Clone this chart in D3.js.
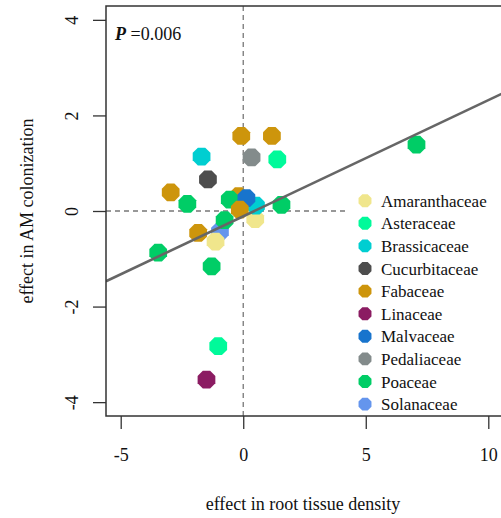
<!DOCTYPE html>
<html>
<head>
<meta charset="utf-8">
<script src="https://cdn.jsdelivr.net/npm/d3@7"></script>
<style>
  body { margin: 0; background: #fff; }
  svg { display: block; font-family: "Liberation Serif", "Times New Roman", serif; }
</style>
</head>
<body>
<svg id="chart" width="501" height="518"></svg>
<script>
// families shown in the legend, with their colours
const families = ["Amaranthaceae", "Asteraceae", "Brassicaceae", "Cucurbitaceae", "Fabaceae",
                  "Linaceae", "Malvaceae", "Pedaliaceae", "Poaceae", "Solanaceae"];
const familyColors = ["#F0E68C", "#00FA9A", "#00CED1", "#4D4D4D", "#CD950C",
                      "#8B1C62", "#1874CD", "#838B8B", "#00CD66", "#6495ED"];

// one entry per species (drawing order kept so overlaps look right)
const pointFamily = ["Fabaceae", "Poaceae", "Amaranthaceae", "Brassicaceae", "Malvaceae",
                     "Fabaceae", "Solanaceae", "Poaceae", "Amaranthaceae", "Fabaceae",
                     "Fabaceae", "Fabaceae", "Brassicaceae", "Pedaliaceae", "Asteraceae",
                     "Cucurbitaceae", "Fabaceae", "Poaceae", "Poaceae", "Poaceae",
                     "Poaceae", "Poaceae", "Asteraceae", "Linaceae"];
const rtdEffect = [-0.19, -0.55, 0.49, 0.52, 0.13,
                   -0.14, -0.95, -0.76, -1.13, -1.84,
                   -0.08, 1.17, -1.70, 0.34, 1.39,
                   -1.44, -2.96, -2.28, 1.56, -3.47,
                   -1.29, 7.07, -1.02, -1.50];
const amEffect  = [0.31, 0.24, -0.17, 0.11, 0.27,
                   0.03, -0.43, -0.19, -0.64, -0.46,
                   1.57, 1.57, 1.14, 1.12, 1.08,
                   0.66, 0.39, 0.15, 0.13, -0.87,
                   -1.16, 1.39, -2.83, -3.53];

// fitted line
const fitIntercept = -0.11;
const fitSlope = 0.243;

const xTicks = [-5, 0, 5, 10];
const yTicks = [-4, -2, 0, 2, 4];

let svg = d3.select("#chart");

let box = {left: 106, top: 6, right: 503, bottom: 416};

let x = d3.scaleLinear().domain([-5.6, 10.6]).range([box.left, box.right]);
let y = d3.scaleLinear().domain([-4.29, 4.29]).range([box.bottom, box.top]);
let color = d3.scaleOrdinal().domain(families).range(familyColors);

// plain hyphen minus, like R
let fmt = function(d) { return String(d); };

// R style octagon for the filled points
function octagon(r) {
    let pts = d3.range(8).map(function(i) {
        let a = Math.PI / 8 + i * Math.PI / 4;
        return [r * Math.cos(a), r * Math.sin(a)];
    });
    return d3.line().curve(d3.curveLinearClosed)(pts);
}

svg.append("clipPath").attr("id", "plotclip")
    .append("rect")
    .attr("x", box.left).attr("y", box.top)
    .attr("width", box.right - box.left).attr("height", box.bottom - box.top);

let plot = svg.append("g").attr("clip-path", "url(#plotclip)");

// reference lines at zero
plot.append("line")
    .attr("x1", x(0)).attr("x2", x(0))
    .attr("y1", box.top).attr("y2", box.bottom)
    .style("stroke", "#777").style("stroke-width", 1.3)
    .style("stroke-dasharray", "5,4");

plot.append("line")
    .attr("x1", box.left).attr("x2", box.right)
    .attr("y1", y(0)).attr("y2", y(0))
    .style("stroke", "#777").style("stroke-width", 1.3)
    .style("stroke-dasharray", "5,4");

// points
plot.selectAll(".dot")
    .data(d3.range(pointFamily.length))
    .enter().append("path")
    .attr("class", "dot")
    .attr("d", octagon(9.6))
    .attr("transform", function(i) { return "translate(" + x(rtdEffect[i]) + "," + y(amEffect[i]) + ")"; })
    .style("fill", function(i) { return color(pointFamily[i]); });

// regression line across the whole plot
let xd = x.domain();
plot.append("line")
    .attr("x1", x(xd[0])).attr("y1", y(fitIntercept + fitSlope * xd[0]))
    .attr("x2", x(xd[1])).attr("y2", y(fitIntercept + fitSlope * xd[1]))
    .style("stroke", "#666").style("stroke-width", 2.6);

// legend (white background hides the dashed line)
let legend = svg.append("g").attr("transform", "translate(345,188)");
legend.append("rect")
    .attr("x", 0).attr("y", 0).attr("width", 160).attr("height", 226)
    .style("fill", "#fff");

let rows = legend.selectAll(".row")
    .data(families)
    .enter().append("g")
    .attr("class", "row")
    .attr("transform", function(d, i) { return "translate(20," + (12.7 + i * 22.6) + ")"; });

rows.append("path")
    .attr("d", octagon(7))
    .style("fill", function(d) { return color(d); });

rows.append("text")
    .attr("x", 16)
    .attr("y", 6)
    .style("font-size", "17px")
    .style("fill", "#111")
    .text(function(d) { return d; });

// plot frame
svg.append("rect")
    .attr("x", box.left).attr("y", box.top)
    .attr("width", box.right - box.left).attr("height", box.bottom - box.top)
    .style("fill", "none").style("stroke", "#333").style("stroke-width", 1.5);

// x axis
let xAxis = svg.append("g").attr("transform", "translate(0," + box.bottom + ")")
    .call(d3.axisBottom(x).tickValues(xTicks).tickSize(13).tickSizeOuter(0).tickFormat(fmt));
xAxis.select(".domain").remove();
xAxis.selectAll(".tick line").style("stroke", "#333").style("stroke-width", 1.3);
xAxis.selectAll(".tick text")
    .attr("y", 45).attr("dy", null)
    .style("font-family", "'Liberation Serif', serif")
    .style("font-size", "18px").style("fill", "#111");

// y axis, labels turned like R's las = 0
let yAxis = svg.append("g").attr("transform", "translate(" + box.left + ",0)")
    .call(d3.axisLeft(y).tickValues(yTicks).tickSize(13).tickSizeOuter(0).tickFormat(fmt));
yAxis.select(".domain").remove();
yAxis.selectAll(".tick line").style("stroke", "#333").style("stroke-width", 1.3);
yAxis.selectAll(".tick text")
    .attr("x", null).attr("dy", null)
    .attr("text-anchor", "middle")
    .attr("transform", "translate(-28,0) rotate(-90)")
    .style("font-family", "'Liberation Serif', serif")
    .style("font-size", "18px").style("fill", "#111");

// axis titles
svg.append("text")
    .attr("x", 303).attr("y", 510)
    .attr("text-anchor", "middle")
    .style("font-size", "18px").style("fill", "#111")
    .text("effect in root tissue density");

svg.append("text")
    .attr("transform", "translate(33,211) rotate(-90)")
    .attr("text-anchor", "middle")
    .style("font-size", "18px").style("fill", "#111")
    .text("effect in AM colonization");

// P value
let ptxt = svg.append("text")
    .attr("x", 115).attr("y", 40)
    .style("font-size", "18px").style("fill", "#111");
ptxt.append("tspan").style("font-weight", "bold").style("font-style", "italic").text("P");
ptxt.append("tspan").text(" =0.006");
</script>
</body>
</html>
